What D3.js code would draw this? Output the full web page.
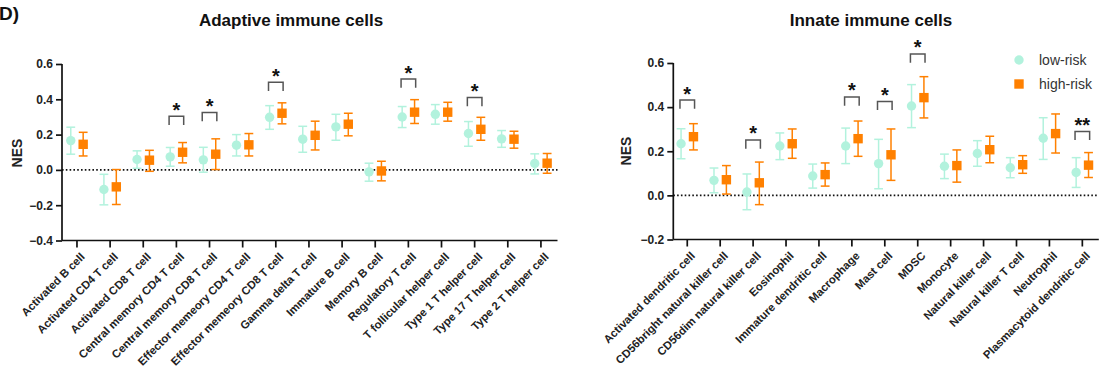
<!DOCTYPE html>
<html>
<head>
<meta charset="utf-8">
<script src="https://cdn.jsdelivr.net/npm/d3@7"></script>
<style>
  html, body { margin: 0; padding: 0; background: #fff; }
  svg { display: block; }
  text { font-family: "Liberation Sans", Arial, sans-serif; }
</style>
</head>
<body>
<svg id="chart" width="1102" height="369"></svg>
<script>
// ---------------- DATA ----------------
const adaptiveCats = ["Activated B cell","Activated CD4 T cell","Activated CD8 T cell","Central memory CD4 T cell","Central memory CD8 T cell","Effector memeory CD4 T cell","Effector memeory CD8 T cell","Gamma delta T cell","Immature B cell","Memory B cell","Regulatory T cell","T follicular helper cell","Type 1 T helper cell","Type 17 T helper cell","Type 2 T helper cell"];
const adaptiveLow    = [0.166,-0.111,0.059,0.074,0.057,0.140,0.298,0.174,0.244,-0.011,0.300,0.315,0.206,0.176,0.036];
const adaptiveLowHi  = [0.242,-0.025,0.108,0.127,0.128,0.200,0.364,0.247,0.315,0.038,0.359,0.370,0.274,0.223,0.091];
const adaptiveLowLo  = [0.089,-0.198,0.009,0.021,-0.013,0.079,0.230,0.100,0.168,-0.064,0.240,0.259,0.134,0.128,-0.023];
const adaptiveHigh   = [0.145,-0.096,0.055,0.100,0.089,0.142,0.321,0.196,0.259,-0.006,0.327,0.327,0.230,0.174,0.038];
const adaptiveHighHi = [0.213,0.002,0.111,0.155,0.176,0.206,0.380,0.276,0.321,0.049,0.398,0.383,0.298,0.219,0.093];
const adaptiveHighLo = [0.079,-0.196,-0.008,0.040,0.002,0.079,0.261,0.113,0.193,-0.062,0.263,0.276,0.168,0.123,-0.019];
const adaptiveTicks  = [-0.4,-0.2,0.0,0.2,0.4,0.6];
const adaptiveSigCats   = ["Central memory CD4 T cell","Central memory CD8 T cell","Effector memeory CD8 T cell","Regulatory T cell","Type 1 T helper cell"];
const adaptiveSigLabels = ["*","*","*","*","*"];
const adaptiveSigLevel  = [0.304,0.325,0.497,0.515,0.410];

const innateCats = ["Activated dendritic cell","CD56bright natural killer cell","CD56dim natural killer cell","Eosinophil","Immature dendritic cell","Macrophage","Mast cell","MDSC","Monocyte","Natural killer cell","Natural killer T cell","Neutrophil","Plasmacytoid dendritic cell"];
const innateLow    = [0.234,0.068,0.015,0.224,0.088,0.224,0.144,0.405,0.132,0.190,0.125,0.259,0.104];
const innateLowHi  = [0.302,0.124,0.097,0.283,0.142,0.305,0.254,0.502,0.187,0.248,0.171,0.352,0.171];
const innateLowLo  = [0.166,0.012,-0.065,0.162,0.033,0.144,0.030,0.307,0.076,0.132,0.080,0.163,0.036];
const innateHigh   = [0.266,0.071,0.057,0.234,0.094,0.257,0.184,0.443,0.135,0.207,0.139,0.280,0.137];
const innateHighHi = [0.325,0.135,0.151,0.301,0.147,0.337,0.301,0.538,0.206,0.268,0.180,0.369,0.194];
const innateHighLo = [0.206,0.006,-0.042,0.168,0.042,0.177,0.068,0.351,0.060,0.148,0.100,0.192,0.081];
const innateTicks  = [-0.2,0.0,0.2,0.4,0.6];
const innateSigCats   = ["Activated dendritic cell","CD56dim natural killer cell","Macrophage","Mast cell","MDSC","Plasmacytoid dendritic cell"];
const innateSigLabels = ["*","*","*","*","*","**"];
const innateSigLevel  = [0.432,0.251,0.446,0.426,0.641,0.290];

const seriesNames = ["low-risk","high-risk"];
const colors = ["#b2f2dd","#ff8000"];

// ---------------- DRAW ----------------
const svg = d3.select("#chart");
const FONT = '"Liberation Sans", Arial, sans-serif';

svg.append("text").attr("x", -1).attr("y", 19.5)
  .attr("font-size", 19).attr("font-weight", "bold").attr("fill", "#111").text("D)");

function panel(cfg) {
  const g = svg.append("g");
  const x = d3.scaleBand().domain(cfg.cats).range(cfg.xRange).paddingInner(0).paddingOuter(0);
  const y = d3.scaleLinear().domain(cfg.yDomain).range(cfg.yRange);
  const cx = c => x(c) + x.bandwidth() / 2;
  const off = 6.2;

  // title
  g.append("text").attr("x", cfg.titleX).attr("y", 26).attr("text-anchor", "middle")
    .attr("font-size", 17).attr("font-weight", "bold").attr("fill", "#111").text(cfg.title);

  // y label
  g.append("text").attr("transform", `translate(${cfg.nesX},${cfg.nesY}) rotate(-90)`)
    .attr("text-anchor", "middle").attr("dominant-baseline", "central")
    .attr("font-size", 14).attr("font-weight", "bold").attr("fill", "#222").text("NES");

  // zero line
  g.append("line").attr("x1", cfg.axisX).attr("x2", cfg.xRange[1])
    .attr("y1", y(0)).attr("y2", y(0))
    .attr("stroke", "#111").attr("stroke-width", 1.6).attr("stroke-dasharray", "1.6,2.2");

  // y axis
  const ya = g.append("g").attr("transform", `translate(${cfg.axisX},0)`)
    .call(d3.axisLeft(y).tickValues(cfg.ticks).tickFormat(d3.format(".1f")).tickSize(6).tickPadding(3).tickSizeOuter(0));
  ya.select(".domain").attr("stroke", "#111").attr("stroke-width", 1.7);
  ya.selectAll(".tick line").attr("stroke", "#111").attr("stroke-width", 1.7);
  ya.selectAll(".tick text").attr("font-family", FONT).attr("font-size", 12).attr("font-weight", "bold").attr("fill", "#222");
  ya.select(".domain").attr("d", `M0,${cfg.yRange[0]}V${y(cfg.ticks[cfg.ticks.length-1])}`);

  // x axis
  const xa = g.append("g").attr("transform", `translate(0,${cfg.yRange[0]})`)
    .call(d3.axisBottom(x).tickSize(7).tickSizeOuter(0).tickFormat(""));
  xa.select(".domain").attr("stroke", "#111").attr("stroke-width", 1.7)
    .attr("d", `M${cfg.axisX},0H${cfg.xRange[1]}`);
  xa.selectAll(".tick line").attr("stroke", "#111").attr("stroke-width", 1.7);

  // x labels
  g.selectAll("text.xl").data(cfg.cats).enter().append("text").attr("class", "xl")
    .attr("transform", c => `translate(${cx(c) + 8.5},${cfg.yRange[0] + 17}) rotate(-45)`)
    .attr("text-anchor", "end").attr("font-size", 11.3).attr("font-weight", "bold").attr("fill", "#222")
    .text(c => c);

  // series
  const series = [
    {vals: cfg.low, hi: cfg.lowHi, lo: cfg.lowLo, dx: -off, color: colors[0], shape: "circle"},
    {vals: cfg.high, hi: cfg.highHi, lo: cfg.highLo, dx: off, color: colors[1], shape: "square"}
  ];
  series.forEach(s => {
    const sg = g.append("g");
    const items = cfg.cats.map((c, i) => ({c, v: s.vals[i], hi: s.hi[i], lo: s.lo[i]}));
    const eb = sg.selectAll("g.eb").data(items).enter().append("g");
    eb.append("line").attr("x1", d => cx(d.c) + s.dx).attr("x2", d => cx(d.c) + s.dx)
      .attr("y1", d => y(d.hi)).attr("y2", d => y(d.lo));
    eb.append("line").attr("x1", d => cx(d.c) + s.dx - 4.4).attr("x2", d => cx(d.c) + s.dx + 4.4)
      .attr("y1", d => y(d.hi)).attr("y2", d => y(d.hi));
    eb.append("line").attr("x1", d => cx(d.c) + s.dx - 4.4).attr("x2", d => cx(d.c) + s.dx + 4.4)
      .attr("y1", d => y(d.lo)).attr("y2", d => y(d.lo));
    eb.selectAll("line").attr("stroke", s.color).attr("stroke-width", 1.5);
    if (s.shape === "circle") {
      sg.selectAll("circle").data(items).enter().append("circle")
        .attr("cx", d => cx(d.c) + s.dx).attr("cy", d => y(d.v)).attr("r", 4.7).attr("fill", s.color);
    } else {
      sg.selectAll("rect").data(items).enter().append("rect")
        .attr("x", d => cx(d.c) + s.dx - 4.7).attr("y", d => y(d.v) - 4.7)
        .attr("width", 9.4).attr("height", 9.4).attr("fill", s.color);
    }
  });

  // significance
  cfg.sigCats.forEach((c, i) => {
    const yt = y(cfg.sigLevel[i]);
    const xc = cx(c);
    g.append("path").attr("d", `M${xc-7.3},${yt+8.7}V${yt}H${xc+7.3}V${yt+8.7}`)
      .attr("fill", "none").attr("stroke", "#555").attr("stroke-width", 1.5);
    g.append("text").attr("x", xc).attr("y", yt + 0.5).attr("text-anchor", "middle")
      .attr("font-size", 20).attr("font-weight", "bold").attr("fill", "#111").text(cfg.sigLabels[i]);
  });
}

panel({
  title: "Adaptive immune cells", titleX: 291, nesX: 17, nesY: 153,
  cats: adaptiveCats, xRange: [60.4, 557.5], axisX: 62,
  yDomain: [-0.4, 0.6], yRange: [240.5, 64], ticks: adaptiveTicks,
  low: adaptiveLow, lowHi: adaptiveLowHi, lowLo: adaptiveLowLo,
  high: adaptiveHigh, highHi: adaptiveHighHi, highLo: adaptiveHighLo,
  sigCats: adaptiveSigCats, sigLabels: adaptiveSigLabels, sigLevel: adaptiveSigLevel
});

panel({
  title: "Innate immune cells", titleX: 871, nesX: 626, nesY: 151,
  cats: innateCats, xRange: [670.8, 1098.8], axisX: 673.3,
  yDomain: [-0.2, 0.6], yRange: [239.5, 63], ticks: innateTicks,
  low: innateLow, lowHi: innateLowHi, lowLo: innateLowLo,
  high: innateHigh, highHi: innateHighHi, highLo: innateHighLo,
  sigCats: innateSigCats, sigLabels: innateSigLabels, sigLevel: innateSigLevel
});

// legend
const leg = svg.append("g");
seriesNames.forEach((n, i) => {
  const ly = 60 + i * 24;
  if (i === 0) leg.append("circle").attr("cx", 1019).attr("cy", ly).attr("r", 4.7).attr("fill", colors[i]);
  else leg.append("rect").attr("x", 1019 - 4.7).attr("y", ly - 4.7).attr("width", 9.4).attr("height", 9.4).attr("fill", colors[i]);
  leg.append("text").attr("x", 1039).attr("y", ly).attr("dominant-baseline", "central")
    .attr("font-size", 14).attr("fill", "#333").text(n);
});
</script>
</body>
</html>
